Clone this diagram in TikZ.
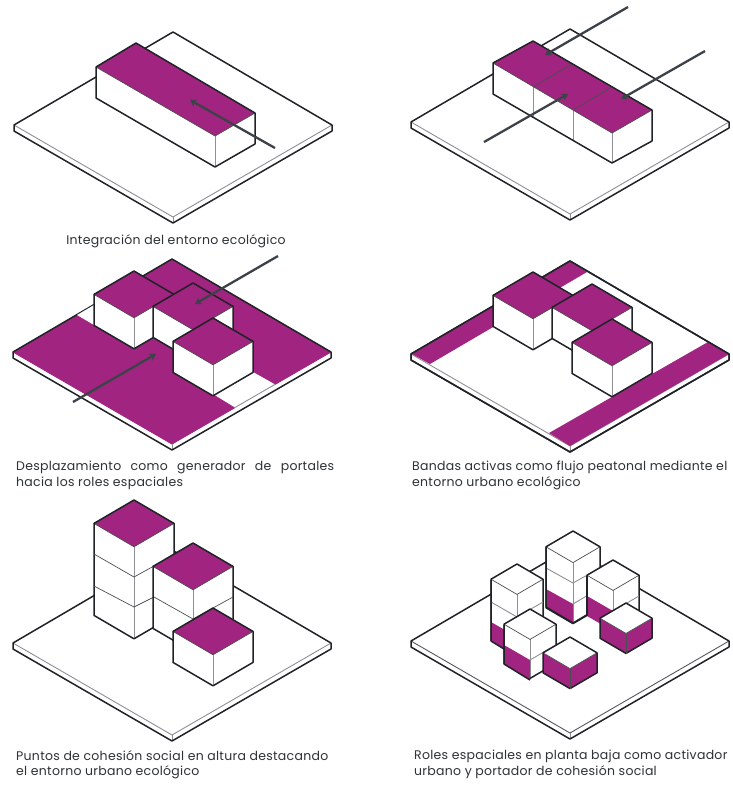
\documentclass[tikz,border=0pt]{standalone}
\usepackage{fontspec}
\setmainfont{Poppins}[LetterSpace=2.2]
\usetikzlibrary{arrows.meta}
\definecolor{mag}{HTML}{A12480}
\definecolor{ink}{HTML}{1F2226}
\definecolor{arrowc}{HTML}{3D4249}
\definecolor{thincol}{HTML}{8E9094}
\definecolor{txt}{HTML}{2E3135}
\tikzset{
  bedge/.style={draw=ink,line width=1.5pt,line join=round},
  innerl/.style={draw=thincol,line width=.9pt},
  innerd/.style={draw=ink!80,line width=.7pt},
  flow/.style={draw=arrowc,line width=2.3pt,-{Stealth[length=6.5pt,width=8pt]}},
  capl/.style={text=txt,font=\fontsize{12.5}{15}\selectfont,anchor=west,inner sep=0pt},
  capc/.style={text=txt,font=\fontsize{12.5}{15}\selectfont,anchor=center,inner sep=0pt},
}
% plate: cx, top y, fill, front-edge colour
\newcommand{\plate}[4]{%
  \fill[white] (#1,#2) -- ++(159,93) -- ++(0,6) -- (#1,#2+191) -- ++(-159,-92) -- ++(0,-6) -- cycle;
  \fill[#3] (#1,#2) -- ++(159,93) -- (#1,#2+185) -- (#1-159,#2+93) -- cycle;
  \draw[innerl,draw=#4] (#1-159,#2+93) -- (#1,#2+185) -- (#1+159,#2+93);
  \draw[innerl] (#1,#2+185) -- ++(0,6);
  \draw[bedge] (#1,#2) -- ++(159,93) -- ++(0,6) -- (#1,#2+191) -- (#1-159,#2+99) -- ++(0,-6) -- cycle;
}
% cube: cx, top y, half width, height, top colour, side colour
\newcommand{\cube}[6]{%
  \fill[#6] (#1-#3,#2+#3*0.585) -- (#1,#2+#3*1.17) -- (#1+#3,#2+#3*0.585) -- ++(0,#4) -- (#1,#2+#3*1.17+#4) -- (#1-#3,#2+#3*0.585+#4) -- cycle;
  \fill[#5] (#1,#2) -- (#1+#3,#2+#3*0.585) -- (#1,#2+#3*1.17) -- (#1-#3,#2+#3*0.585) -- cycle;
  \draw[innerl] (#1,#2+#3*1.17) -- ++(0,#4);
  \draw[innerd] (#1-#3,#2+#3*0.585) -- (#1,#2+#3*1.17) -- (#1+#3,#2+#3*0.585);
  \draw[bedge] (#1,#2) -- (#1+#3,#2+#3*0.585) -- ++(0,#4) -- (#1,#2+#3*1.17+#4) -- (#1-#3,#2+#3*0.585+#4) -- (#1-#3,#2+#3*0.585) -- cycle;
}
\begin{document}
\begin{tikzpicture}[x=1pt,y=-1pt]
\useasboundingbox (0,0) rectangle (732,785);
\fill[white] (0,0) rectangle (732,785);

% ---------- panel 1
\plate{173}{32}{white}{thincol}
\fill[white] (96,67) -- (215,136) -- (255,113) -- (255,144) -- (215,167) -- (96,98) -- cycle;
\fill[mag] (96,67) -- (136,43) -- (255,113) -- (215,136) -- cycle;
\draw[innerl] (215,136) -- (215,167);
\draw[innerd] (96,67) -- (215,136) -- (255,113);
\draw[bedge] (96,67) -- (136,43) -- (255,113) -- (255,144) -- (215,167) -- (96,98) -- cycle;
\coordinate (a1s) at (275,148); \coordinate (a1e) at (190,100);
\draw[flow] (a1s) -- (a1e);
\node[capc] (c1) at (176,241) {Integración del entorno ecológico};

% ---------- panel 2
\plate{570}{29}{white}{thincol}
\fill[white] (493,63) -- (612,133) -- (652,110) -- (652,141) -- (612,163) -- (493,94) -- cycle;
\fill[mag] (493,63) -- (533,41) -- (652,110) -- (612,133) -- cycle;
\draw[innerl] (533,87) -- (533,117) (573,110) -- (573,140) (612,133) -- (612,163);
\draw[innerd] (493,63) -- (612,133) -- (652,110) (533,87) -- (572,64) (573,110) -- (612,87);
\draw[bedge] (493,63) -- (533,41) -- (652,110) -- (652,141) -- (612,163) -- (493,94) -- cycle;
\coordinate (a2s) at (628,7); \coordinate (a2e) at (545,55);
\coordinate (a3s) at (705,51); \coordinate (a3e) at (621,99);
\coordinate (a4s) at (484,142); \coordinate (a4e) at (568,94);
\draw[flow] (a2s) -- (a2e);
\draw[flow] (a3s) -- (a3e);
\draw[flow] (a4s) -- (a4e);

% ---------- panel 3
\plate{172}{259}{mag}{mag}
\fill[white] (213,394) -- (253,372) -- (275,384.4) -- (276,386) -- (236,409) -- (235,407.5) -- cycle;
\draw[innerl] (275,384.4) -- (235,407.5);
\fill[white] (77,315) -- (94,305) -- (94,325) -- cycle;
\cube{134}{271}{40}{31}{mag}{white}
\cube{193}{283}{40}{31}{mag}{white}
\cube{213}{318}{40}{31}{mag}{white}
\coordinate (a5s) at (278,256); \coordinate (a5e) at (195,304);
\coordinate (a6s) at (73,402); \coordinate (a6e) at (156,354);
\draw[flow] (a5s) -- (a5e);
\draw[flow] (a6s) -- (a6e);
\node[capl] (c3a) at (16,467) {\makebox[318pt][s]{Desplazamiento como generador de portales}};
\node[capl] (c3b) at (16,483) {hacia los roles espaciales};

% ---------- panel 4
\plate{570}{261}{white}{thincol}
\fill[mag] (412,354) -- (570,261) -- (587,272) -- (430,364) -- cycle;
\fill[mag] (708,342) -- (729,354) -- (570,446) -- (549,433) -- cycle;
\draw[bedge] (570,261) -- (729,354) -- (729,360) -- (570,452) -- (411,360) -- (411,354) -- cycle;
\cube{533}{272}{40}{31}{mag}{white}
\cube{592}{284}{40}{31}{mag}{white}
\cube{612}{319}{40}{31}{mag}{white}
\node[capl] (c4a) at (412,467) {Bandas activas como flujo peatonal mediante el};
\node[capl] (c4b) at (412,483) {entorno urbano ecológico};

% ---------- panel 5
\plate{172}{550}{white}{thincol}
\cube{134}{500}{40}{92}{mag}{white}
\draw[innerd] (94,554) -- (134,577) -- (154,566) (94,586) -- (134,607) -- (154,597);
\cube{193}{543}{40}{62}{mag}{white}
\draw[innerd] (154,597) -- (193,619) -- (233,597);
\cube{213}{608}{40}{31}{mag}{white}
\node[capl] (c5a) at (16,756) {Puntos de cohesión social en altura destacando};
\node[capl] (c5b) at (16,772) {el entorno urbano ecológico};

% ---------- panel 6
\plate{570}{548}{white}{ink!75}
% back tower
\cube{573}{531}{27}{61}{white}{white}
\fill[mag] (546,589) -- (573,604) -- (573,623) -- (546,607) -- cycle;
\draw[innerl] (546,568) -- (573,583) -- (600,568) (573,604) -- (600,588);
\draw[bedge] (546,547) -- (546,607) -- (573,623) -- (600,607);
% right tower
\cube{613}{560}{26}{35}{white}{white}
\fill[mag] (587,596) -- (613,611) -- (613,631) -- (587,616) -- cycle;
\draw[bedge] (587,576) -- (587,616);
\draw[innerl] (613,611) -- (639,596);
% right-front cube
\cube{626}{603}{26}{20}{white}{mag}
\draw[innerd] (626,634) -- ++(0,20);
% left tower
\cube{517}{564}{26}{61}{white}{white}
\fill[mag] (491,622) -- (517,637) -- (517,657) -- (491,641) -- cycle;
\draw[innerl] (491,602) -- (517,617) -- (543,602);
\draw[bedge] (491,580) -- (491,641) -- (517,657);
% front tower
\cube{530}{609}{26}{39}{white}{white}
\fill[mag] (504,645) -- (530,660) -- (530,680) -- (504,664) -- cycle;
\draw[innerl] (530,660) -- (556,645);
\draw[bedge] (504,625) -- (504,664) -- (530,680);
% front cube
\cube{570}{637}{27}{20}{white}{mag}
\draw[innerd] (570,668.6) -- ++(0,20);
\node[capl] (c6a) at (414,756) {Roles espaciales en planta baja como activador};
\node[capl] (c6b) at (414,772) {urbano y portador de cohesión social};
\end{tikzpicture}
\end{document}
